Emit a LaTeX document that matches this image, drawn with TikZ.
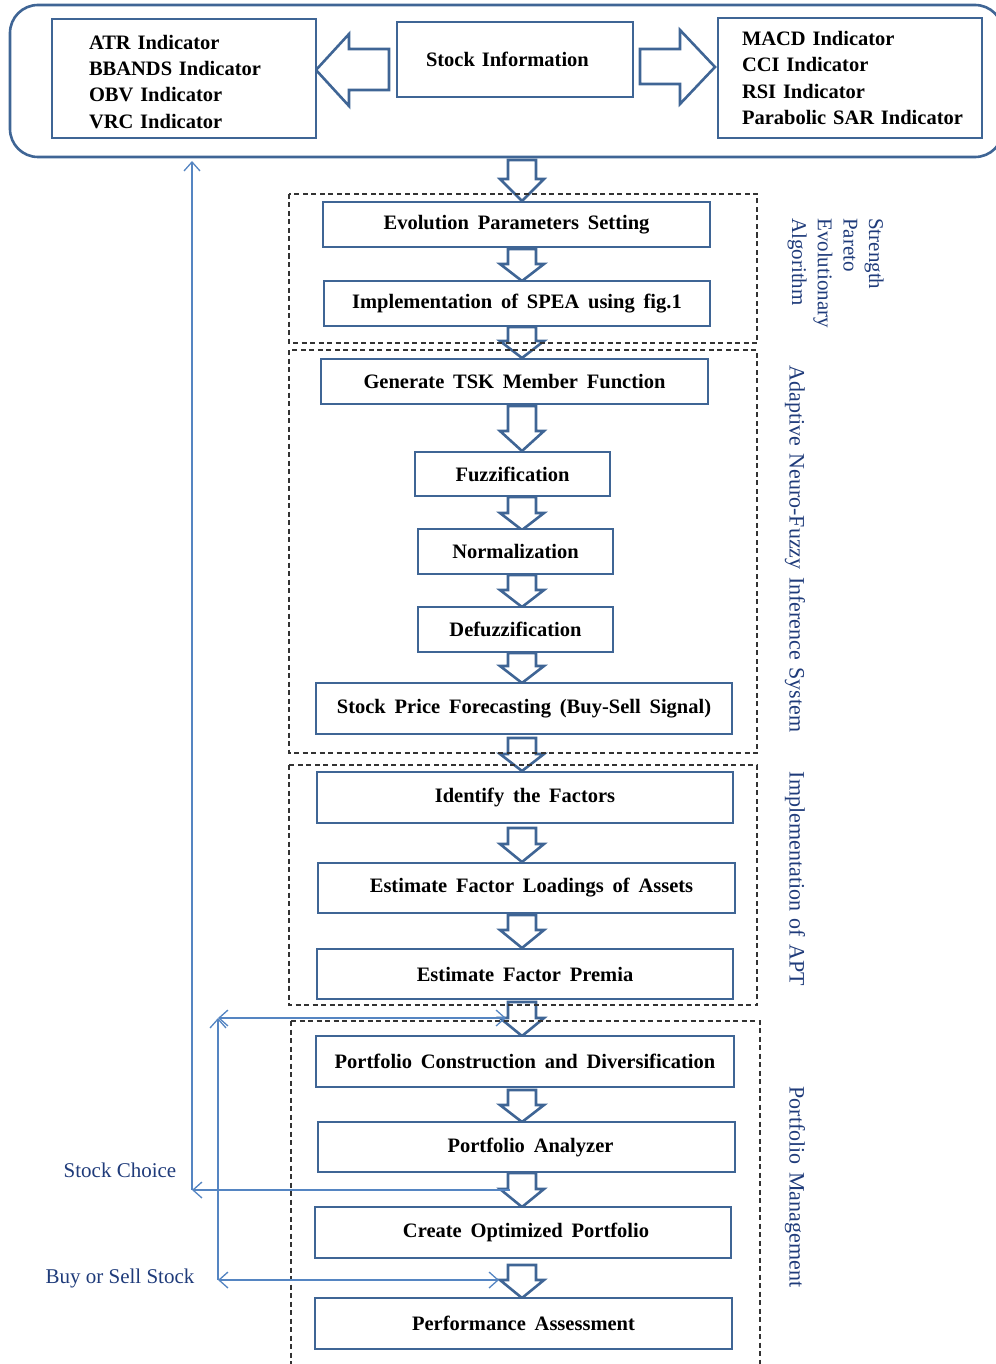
\documentclass[tikz,border=0pt]{standalone}
\usepackage{fontspec}
\setmainfont{Liberation Serif}
\usetikzlibrary{arrows.meta}
\definecolor{boxblue}{HTML}{3F6595}
\definecolor{txtblue}{HTML}{1F3B7A}
\definecolor{linkblue}{HTML}{5585C2}
\newcommand{\blkdn}[4]{% x, ytop, ytip, head length
  \draw[blk] (#1-14,#2) -- (#1+14,#2) -- (#1+14,#3-#4) -- (#1+22,#3-#4) -- (#1,#3)
    -- (#1-22,#3-#4) -- (#1-14,#3-#4) -- cycle;}
\newcommand{\boxfont}{\fontsize{20.5}{24}\selectfont\bfseries\spaceskip=8.8pt\relax}
\newcommand{\vfont}{\fontsize{22}{25.7}\selectfont\spaceskip=7.5pt\relax}
\begin{document}
\begin{tikzpicture}[x=1pt,y=-1pt,
  box/.style={draw=boxblue,line width=2.6pt,fill=white,inner sep=0pt,font=\boxfont},
  blk/.style={draw=boxblue,line width=2.6pt,fill=white,line join=miter},
  grp/.style={draw=black!80,line width=1.3pt,dash pattern=on 5pt off 3.5pt},
  vlabel/.style={text=txtblue,font=\vfont,rotate=-90,inner sep=0pt},
  hlabel/.style={text=txtblue,font=\fontsize{21}{25}\selectfont,inner sep=0pt},
  link/.style={draw=linkblue,line width=1.3pt},
  tip/.style={-{Straight Barb[length=9pt,width=16pt,line width=1.3pt]}},
  dtip/.style={{Straight Barb[length=9pt,width=16pt,line width=1.3pt]}-{Straight Barb[length=9pt,width=16pt,line width=1.3pt]}}]
\useasboundingbox (0,0) rectangle (995,1364);

% top group
\draw[draw=boxblue,line width=2.6pt,rounded corners=28pt] (10,5) rectangle (1003,157);

% horizontal block arrows
\draw[blk] (316,70) -- (349,34) -- (349,49) -- (389,49) -- (389,90) -- (349,90) -- (349,106) -- cycle;
\draw[blk] (715,67) -- (680,30) -- (680,49) -- (640,49) -- (640,84) -- (680,84) -- (680,104) -- cycle;

\node[box,minimum width=264pt,minimum height=119pt,text width=190pt,align=left,
  font=\fontsize{20.5}{26.3}\selectfont\bfseries] (left) at (184,78.5)
  {\rule{0pt}{21pt}ATR Indicator\\BBANDS Indicator\\OBV Indicator\\VRC Indicator};
\node[box,minimum width=236pt,minimum height=75pt,text width=236pt,align=left] (info) at (515,59.5) {\hspace*{29pt}Stock Information\par\vspace*{3pt}};
\node[box,minimum width=264pt,minimum height=120pt,text width=216pt,align=left,
  font=\fontsize{20.5}{26.6}\selectfont\bfseries] (right) at (850,78)
  {MACD Indicator\\CCI Indicator\\RSI Indicator\\\mbox{Parabolic SAR Indicator}};

% down block arrows
\blkdn{522}{160}{201}{22}
\blkdn{522}{249}{281}{17}
\blkdn{522}{327}{358}{17}
\blkdn{522}{406}{451}{20}
\blkdn{522}{497}{530}{17}
\blkdn{522}{575}{607}{17}
\blkdn{522}{653}{683}{17}
\blkdn{522}{738}{771}{17}
\blkdn{522}{828}{862}{18}
\blkdn{522}{915}{948}{18}
\blkdn{522}{1002}{1036}{18}
\blkdn{522}{1090}{1122}{17}
\blkdn{522}{1173}{1207}{18}
\blkdn{522}{1265}{1298}{18}

% dashed groups
\draw[grp] (289,194) rectangle (757,343);
\draw[grp] (289,350) rectangle (757,753);
\draw[grp] (289,765) rectangle (757,1005);
\draw[grp] (291,1021) -- (760,1021) -- (760,1375);
\draw[grp] (291,1021) -- (291,1375);

% step boxes
\node[box,minimum width=387pt,minimum height=45pt] (evo) at (516.5,224.5) {Evolution Parameters Setting};
\node[box,minimum width=386pt,minimum height=45pt] (spea) at (517,303.5) {Implementation of SPEA using fig.1};
\node[box,minimum width=387pt,minimum height=45pt] (tsk) at (514.5,381.5) {Generate TSK Member Function};
\node[box,minimum width=195pt,minimum height=44pt] (fuzz) at (512.5,474) {Fuzzification};
\node[box,minimum width=195pt,minimum height=45pt] (norm) at (515.5,551.5) {Normalization};
\node[box,minimum width=195pt,minimum height=45pt] (defuzz) at (515.5,629.5) {Defuzzification};
\node[box,minimum width=416pt,minimum height=51pt] (spf) at (524,708.5) {Stock Price Forecasting (Buy-Sell Signal)};
\node[box,minimum width=416pt,minimum height=51pt] (ident) at (525,797.5) {Identify the Factors};
\node[box,minimum width=417pt,minimum height=50pt] (load) at (526.5,888) {\hspace*{10pt}Estimate Factor Loadings of Assets};
\node[box,minimum width=416pt,minimum height=50pt] (prem) at (525,974) {Estimate Factor Premia};
\node[box,minimum width=418pt,minimum height=51pt] (pcd) at (525,1061.5) {Portfolio Construction and Diversification};
\node[box,minimum width=417pt,minimum height=50pt] (pa) at (526.5,1147) {\hspace*{8pt}Portfolio Analyzer};
\node[box,minimum width=416pt,minimum height=51pt] (cop) at (523,1232.5) {\hspace*{6pt}Create Optimized Portfolio};
\node[box,minimum width=417pt,minimum height=51pt] (perf) at (523.5,1323.5) {Performance Assessment};

% vertical labels
\node[vlabel,align=left,anchor=north west,font=\fontsize{21}{25.7}\selectfont] (lspea) at (884,218) {Strength\\Pareto\\Evolutionary\\Algorithm};
\node[vlabel] (lanfis) at (795,549) {Adaptive Neuro-Fuzzy Inference System};
\node[vlabel] (lapt) at (795,879) {Implementation of APT};
\node[vlabel] (lpm) at (795,1187) {Portfolio Management};

% left labels
\node[hlabel] (lsc) at (120,1170) {Stock Choice};
\node[hlabel] (lbs) at (120,1278) {Buy or Sell Stock};

% connectors
\coordinate (scA) at (510,1190);
\coordinate (scB) at (192,1190);
\coordinate (scC) at (192,161);
\draw[link,tip] (scA) -- (scB);
\draw[link,tip] (scB) -- (scC);
\coordinate (bsA) at (499,1280);
\coordinate (bsB) at (218,1280);
\coordinate (bsC) at (218,1018);
\coordinate (bsD) at (506,1018);
\draw[link,dtip] (bsB) -- (bsA);
\draw[link,tip] (bsB) -- (bsC);
\draw[link,dtip] (bsC) -- (bsD);
\end{tikzpicture}
\end{document}
